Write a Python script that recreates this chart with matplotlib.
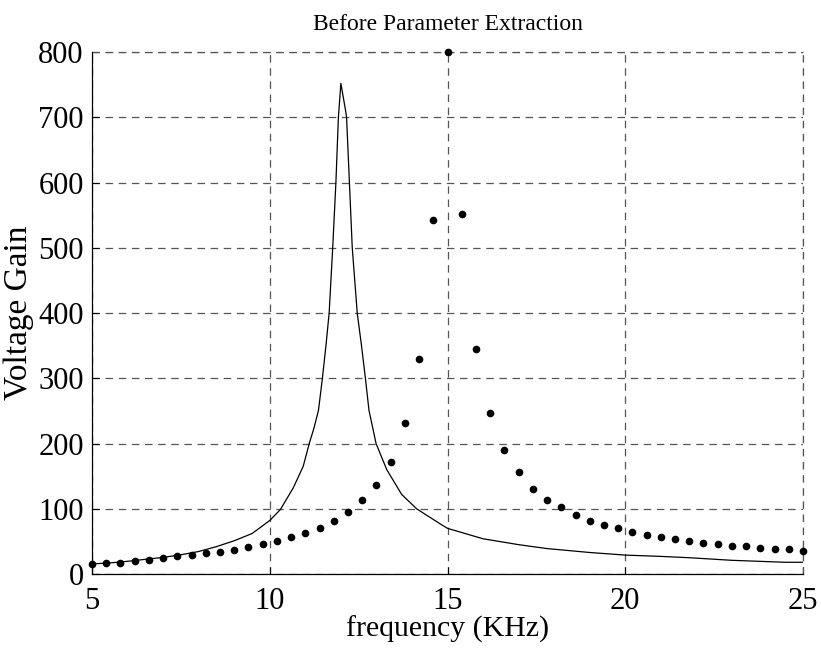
import matplotlib
matplotlib.use("Agg")
import matplotlib.pyplot as plt
import numpy as np

# Measured response (dots), 0.4 kHz spacing
freq_meas = [5.0, 5.4, 5.8, 6.2, 6.6, 7.0, 7.4, 7.8, 8.2, 8.6, 9.0, 9.4, 9.8,
             10.2, 10.6, 11.0, 11.4, 11.8, 12.2, 12.6, 13.0, 13.4, 13.8, 14.2,
             14.6, 15.0, 15.4, 15.8, 16.2, 16.6, 17.0, 17.4, 17.8, 18.2, 18.6,
             19.0, 19.4, 19.8, 20.2, 20.6, 21.0, 21.4, 21.8, 22.2, 22.6, 23.0,
             23.4, 23.8, 24.2, 24.6, 25.0]
gain_meas = [14.8, 16.9, 16.9, 19.4, 21.5, 24, 27, 29, 31.7, 33.8, 36.3, 41.4, 46,
             51, 56, 63.4, 71, 81, 95.7, 113, 137, 172, 230.7, 330,
             543, 800, 552, 345.6, 247, 190, 156, 131, 114, 102, 90,
             82, 74.5, 70, 65, 60, 57.5, 53, 50.5, 48, 46, 43,
             43, 40.5, 38, 38, 36]

# Model curve (solid line)
freq_model = [5.0, 5.5, 6.0, 6.5, 7.0, 7.5, 8.0, 8.5, 9.0, 9.5, 10.0, 10.3, 10.66,
              10.94, 11.11, 11.25, 11.37, 11.48, 11.58, 11.67, 11.77, 11.86, 11.93,
              12.0, 12.13, 12.16, 12.24, 12.32, 12.46, 12.58, 12.69, 12.79, 12.99,
              13.29, 13.71, 14.13, 14.79, 15.0, 16.0, 17.0, 17.8, 19.0, 20.0, 21.0,
              21.8, 23.0, 24.0, 24.5, 25.0]
gain_model = [15.5, 17, 19.5, 22.5, 25.5, 29.5, 34.5, 42, 51, 62, 82, 99, 132,
              165, 200, 225, 251, 300, 350, 400, 500, 600, 700,
              752, 711, 700, 600, 500, 400, 350, 300, 251, 200,
              160, 122, 100, 77, 70, 54, 45, 39, 33, 29, 27,
              25, 21, 19, 18, 18]

xticks = [5, 10, 15, 20, 25]
yticks = [0, 100, 200, 300, 400, 500, 600, 700, 800]

plt.rcParams['font.family'] = ['Liberation Serif', 'DejaVu Serif']

fig = plt.figure(figsize=(8.21, 6.52), dpi=100)
ax = fig.add_axes([0.1121, 0.1196, 0.8660, 0.8006])

ax.plot(freq_model, gain_model, color='black', linewidth=0.9, zorder=3)
ax.plot(freq_meas, gain_meas, linestyle='none', marker='o', markersize=4.5,
        color='black', zorder=4, clip_on=False)

ax.set_xlim(5, 25)
ax.set_ylim(0, 800)
ax.set_xticks(xticks)
ax.set_yticks(yticks)
ax.tick_params(direction='in', length=5, width=0.8, labelsize=22,
               top=False, right=False, colors='black')
ax.tick_params(axis='x', pad=9)
ax.tick_params(axis='y', pad=6)

ax.grid(True, color='#555555', linestyle=(0, (6, 4.5)), linewidth=0.9)
for s in ['top', 'right']:
    ax.spines[s].set_visible(False)
for s in ['left', 'bottom']:
    ax.spines[s].set_linewidth(0.9)
    ax.spines[s].set_color('black')

ax.axhline(800, color='#555555', linestyle=(0, (6, 4.5)), linewidth=0.9, clip_on=False)
ax.axvline(25, color='#555555', linestyle=(0, (6, 4.5)), linewidth=0.9, clip_on=False)

ax.set_title('Before Parameter Extraction', fontsize=17, pad=16)
ax.set_xlabel('frequency (KHz)', fontsize=21.5, labelpad=0)
ax.set_ylabel('Voltage Gain', fontsize=24, labelpad=3)

fig.savefig('out.png', dpi=100)
